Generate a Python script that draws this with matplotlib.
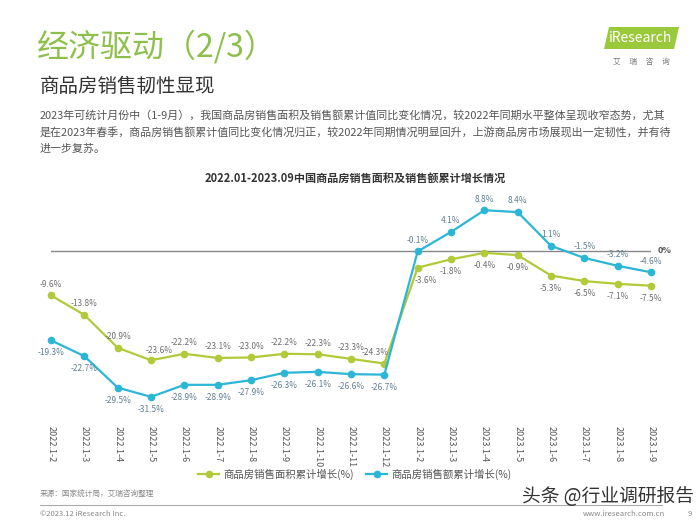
import matplotlib.pyplot as plt
from matplotlib.patches import Polygon
from matplotlib.lines import Line2D

plt.rcParams['font.family'] = ['Noto Sans CJK SC', 'DejaVu Sans']

months = ['2022.1-2', '2022.1-3', '2022.1-4', '2022.1-5', '2022.1-6', '2022.1-7',
          '2022.1-8', '2022.1-9', '2022.1-10', '2022.1-11', '2022.1-12',
          '2023.1-2', '2023.1-3', '2023.1-4', '2023.1-5', '2023.1-6', '2023.1-7',
          '2023.1-8', '2023.1-9']
area_growth = [-9.6, -13.8, -20.9, -23.6, -22.2, -23.1, -23.0, -22.2, -22.3, -23.3, -24.3,
               -3.6, -1.8, -0.4, -0.9, -5.3, -6.5, -7.1, -7.5]
sales_growth = [-19.3, -22.7, -29.5, -31.5, -28.9, -28.9, -27.9, -26.3, -26.1, -26.6, -26.7,
                -0.1, 4.1, 8.8, 8.4, 1.1, -1.5, -3.2, -4.6]

GREEN = '#b2c93a'
BLUE = '#2cb6d6'
W, H = 700, 525

fig = plt.figure(figsize=(7, 5.25), dpi=100)


def ftext(x, y, s, **kw):
    # pixel coordinates, origin top-left
    return fig.text(x / W, 1 - y / H, s, **kw)


# header
ftext(37, 47, '经济驱动（2/3）', fontsize=23, color='#8cc04a', va='center')
ftext(40, 86, '商品房销售韧性显现', fontsize=14, color='#333333', va='center')
body = ['2023年可统计月份中（1-9月），我国商品房销售面积及销售额累计值同比变化情况，较2022年同期水平整体呈现收窄态势，尤其',
        '是在2023年春季，商品房销售额累计值同比变化情况归正，较2022年同期情况明显回升，上游商品房市场展现出一定韧性，并有待',
        '进一步复苏。']
for i, line in enumerate(body):
    ftext(40, 115 + i * 17, line, fontsize=7.9, color='#555555', va='center')

# logo
logo = Polygon([(604 / W, 1 - 49 / H), (674 / W, 1 - 49 / H), (679 / W, 1 - 27 / H), (609 / W, 1 - 27 / H)],
               closed=True, transform=fig.transFigure, facecolor='#9bc93c', edgecolor='none')
fig.patches.append(logo)
ftext(641, 38, 'iResearch', fontsize=10, color='white', ha='center', va='center')
ftext(641, 62, '艾     瑞     咨     询', fontsize=5.5, color='#777777', ha='center', va='center')

# chart
ax = fig.add_axes([51 / W, 1 - 417.7 / H, 600 / W, (417.7 - 195.4) / H])
x = list(range(len(months)))
ax.set_xlim(0, len(months) - 1)
ax.set_ylim(-36, 12)
ax.axhline(0, color='#888888', lw=1, xmin=0, xmax=1)
ax.text(18.2, 0, '0%', fontsize=6.5, fontstyle='italic', fontweight='bold', color='#555555', va='center')

ax.plot(x, area_growth, color=GREEN, lw=1.6, marker='o', ms=4.5, clip_on=False, zorder=3)
ax.plot(x, sales_growth, color=BLUE, lw=1.6, marker='o', ms=4.5, clip_on=False, zorder=3)

# a few labels sit off-centre in the original
area_nudge = {3: (6, 7), 10: (-7, 8), 11: (6, -9)}
for i, (a, s) in enumerate(zip(area_growth, sales_growth)):
    if i < 11:
        a_off, s_off = (0, 8), (0, -9)
    else:
        a_off, s_off = (0, -9), (0, 8)
    a_off = area_nudge.get(i, a_off)
    ax.annotate(f'{a:.1f}%', (i, a), xytext=a_off, textcoords='offset points',
                ha='center', va='center', fontsize=6, color='#6e6e6e')
    ax.annotate(f'{s:.1f}%', (i, s), xytext=s_off, textcoords='offset points',
                ha='center', va='center', fontsize=6, color='#5f7f8f')

ax.set_xticks(x)
ax.set_xticklabels(months, rotation=270, fontsize=6.5, color='#555555')
ax.tick_params(axis='x', length=0, pad=6)
ax.set_yticks([])
for sp in ax.spines.values():
    sp.set_visible(False)

ftext(355, 178, '2022.01-2023.09中国商品房销售面积及销售额累计增长情况', fontsize=8, fontweight='bold',
      color='#333333', ha='center', va='center')

handles = [Line2D([], [], color=GREEN, lw=1.6, marker='o', ms=4.5),
           Line2D([], [], color=BLUE, lw=1.6, marker='o', ms=4.5)]
fig.legend(handles, ['商品房销售面积累计增长(%)', '商品房销售额累计增长(%)'], loc='center',
           bbox_to_anchor=(355 / W, 1 - 474 / H), ncol=2, frameon=False, fontsize=7.5,
           labelcolor='#555555', handlelength=2, columnspacing=1.2, handletextpad=0.4)

# footer
ftext(40, 495, '来源：国家统计局，艾瑞咨询整理', fontsize=5.5, color='#888888', va='center')
fig.add_artist(Line2D([40 / W, 662 / W], [1 - 505 / H, 1 - 505 / H], color='#aaaaaa', lw=0.8))
ftext(40, 514, '©2023.12 iResearch Inc.', fontsize=5.5, color='#888888', va='center')
ftext(665, 514, 'www.iresearch.com.cn', fontsize=5.5, color='#888888', ha='right', va='center')
ftext(688, 514, '9', fontsize=5.5, color='#888888', va='center')
ftext(694, 496, '头条 @行业调研报告', fontsize=13.5, color='#333333', ha='right', va='center')

fig.savefig('out.png', dpi=100)
